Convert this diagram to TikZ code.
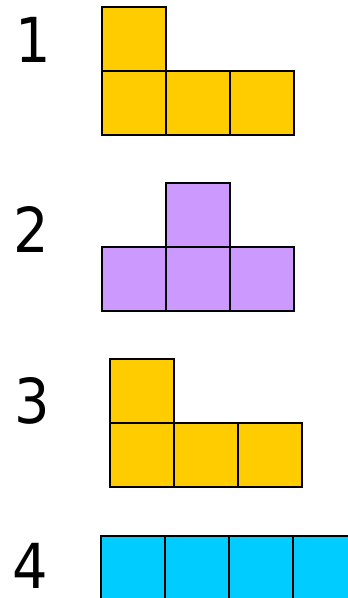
\documentclass[tikz,border=0pt]{standalone}
\usepackage{fontspec}
\setmainfont{DejaVu Sans}
\newfontfamily\numfont[FakeStretch=0.9]{DejaVu Sans}
\usepackage{xcolor}
\usetikzlibrary{positioning}
\definecolor{gold}{HTML}{FFCC00}
\definecolor{lilac}{HTML}{CC99FF}
\definecolor{sky}{HTML}{00CCFF}
\tikzstyle{cell} = [rectangle, minimum size=64pt, inner sep=0pt, outer sep=0pt,
                    anchor=north west, draw=black, line width=1.2pt]
\tikzstyle{goldcell} = [cell, fill=gold]
\tikzstyle{lilaccell} = [cell, fill=lilac]
\tikzstyle{skycell} = [cell, fill=sky]
\tikzstyle{num} = [anchor=base, inner sep=0pt, font=\numfont\fontsize{62}{62}\selectfont]

\begin{document}
\begin{tikzpicture}[x=1pt, y=-1pt]
    \clip (0,0) rectangle (348,598);
    \useasboundingbox (0,0) rectangle (348,598);

    % piece 1
    \node[num] (n1) at (33,62) {1};
    \node[goldcell] (a0) at (102,7) {};
    \node[goldcell] (a1) at (102,71) {};
    \node[goldcell] (a2) at (166,71) {};
    \node[goldcell] (a3) at (230,71) {};

    % piece 2
    \node[num] (n2) at (31,252) {2};
    \node[lilaccell] (b0) at (166,183) {};
    \node[lilaccell] (b1) at (102,247) {};
    \node[lilaccell] (b2) at (166,247) {};
    \node[lilaccell] (b3) at (230,247) {};

    % piece 3
    \node[num] (n3) at (32,423) {3};
    \node[goldcell] (c0) at (110,359) {};
    \node[goldcell] (c1) at (110,423) {};
    \node[goldcell] (c2) at (174,423) {};
    \node[goldcell] (c3) at (238,423) {};

    % piece 4
    \node[num] (n4) at (30,588) {4};
    \node[skycell] (d0) at (101,536) {};
    \node[skycell] (d1) at (165,536) {};
    \node[skycell] (d2) at (229,536) {};
    \node[skycell] (d3) at (293,536) {};
\end{tikzpicture}
\end{document}
